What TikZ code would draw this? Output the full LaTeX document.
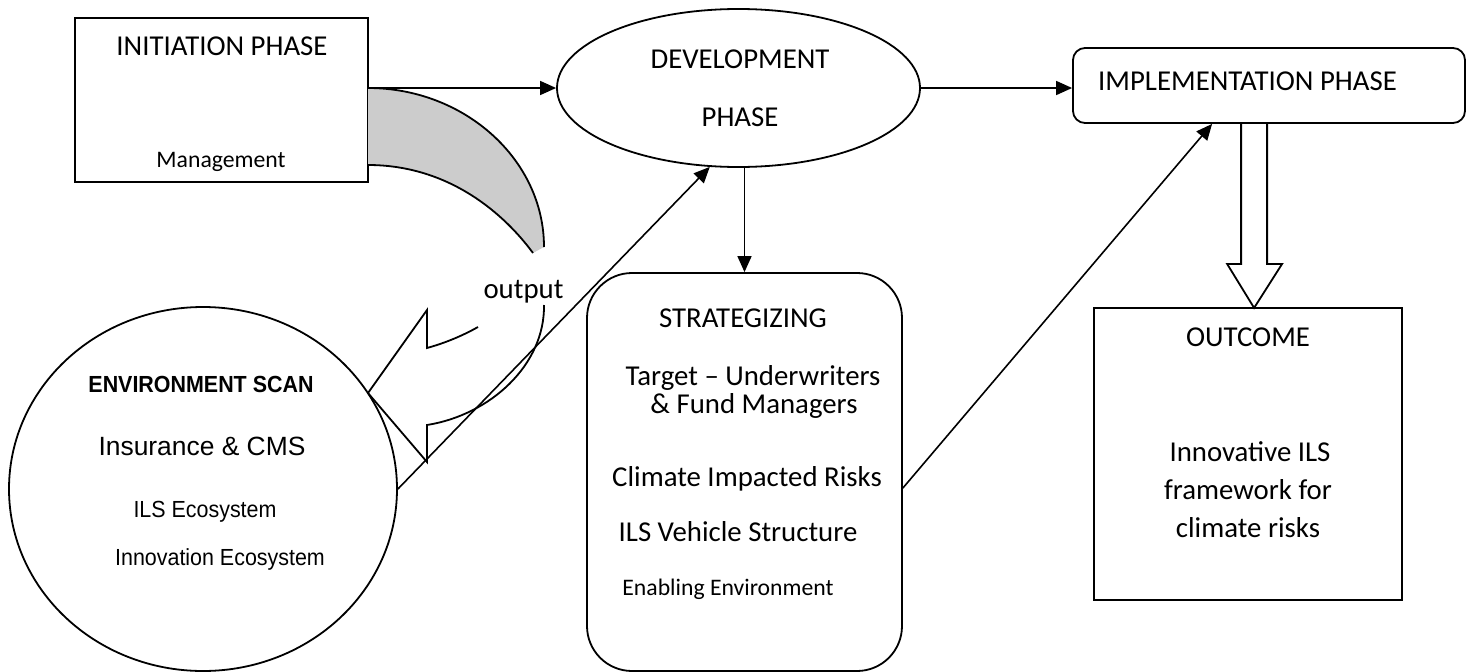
\documentclass[tikz,border=0pt]{standalone}
\usepackage{fontspec}
\setmainfont{Carlito}
\newfontfamily\arialfont{Liberation Sans}
\newfontfamily\arialnarrow[FakeStretch=0.92]{Liberation Sans}
\usetikzlibrary{shapes.geometric,arrows.meta}

\definecolor{bandgray}{RGB}{204,204,204}

\tikzset{
  line/.style={line width=1.8pt, draw=black},
  box/.style={line, rectangle, inner sep=0pt},
  roundbox/.style={box, rounded corners=#1},
  oval/.style={line, ellipse, inner sep=0pt},
  arr/.style={line width=1.6pt, -{Triangle[length=16pt,width=14pt]}},
  lbl/.style={inner sep=0pt, anchor=base},
  lblw/.style={inner sep=0pt, anchor=base west},
  big/.style={font=\fontsize{28.8}{34}\selectfont},
  small/.style={font=\fontsize{23.7}{28}\selectfont},
  envtitle/.style={font=\arialnarrow\bfseries\fontsize{23.3}{28}\selectfont},
  envtext/.style={font=\arialnarrow\fontsize{23.3}{28}\selectfont},
  envbig/.style={font=\arialfont\fontsize{26.4}{31}\selectfont},
}

\begin{document}
\begin{tikzpicture}[x=1pt, y=-1pt]
  \useasboundingbox (0,0) rectangle (1473,672);

  % main shapes
  \node[box, minimum width=293pt, minimum height=164pt] (init) at (221.5,100) {};
  \node[oval, minimum width=363pt, minimum height=158pt] (dev) at (738.5,88) {};
  \node[roundbox=12pt, minimum width=392pt, minimum height=75pt] (impl) at (1269,85.5) {};
  \node[roundbox=45pt, minimum width=315pt, minimum height=398pt] (strat) at (744.5,472) {};
  \node[box, minimum width=308pt, minimum height=292pt] (outcome) at (1248,454) {};
  \node[oval, minimum width=388pt, minimum height=364pt] (env) at (203,489) {};

  % curved "output" arrow: shaded upper band
  \fill[bandgray] (368,88) .. controls (465,88) and (544,160) .. (544,247)
    -- (533,253) .. controls (505,215) and (450,165) .. (368,165) -- cycle;
  \draw[line] (368,88) .. controls (465,88) and (544,160) .. (544,247);
  \draw[line] (533,253) .. controls (505,215) and (450,165) .. (368,165);
  % curved "output" arrow: lower part with its head
  \draw[line, line join=miter] (478,327) .. controls (462,336) and (445,343) .. (427,348)
    -- (427,310) -- (368,393) -- (427,462) -- (427,425)
    .. controls (490,415) and (545,365) .. (544,305);
  \node[lbl, big] (outlbl) at (523.5,298) {output};

  % connectors
  \draw[arr] (init.east |- dev.west) -- (dev.west);
  \draw[arr] (dev.east) -- (dev.east -| impl.west);
  \draw[arr] (strat.north |- dev.south) -- (strat.north);
  \draw[arr] ([yshift=-16pt]strat.east) -- ([xshift=140pt]impl.south west);
  \draw[arr] (env.east) -- (dev.250);

  % block arrow from implementation down to the outcome
  \draw[line, line join=miter] ([xshift=169pt]impl.south west) -- ++(0,140) -- ++(-14,0)
    -- ++(27,44) -- ++(28,-44) -- ++(-15,0) -- ++(0,-140);

  % texts
  \node[lbl, big] (initT) at (222,55) {INITIATION PHASE};
  \node[lbl, small] (initM) at (221,167) {Management};

  \node[lbl, big] (devT1) at (740,68) {DEVELOPMENT};
  \node[lbl, big] (devT2) at (740,126) {PHASE};

  \node[lblw, big] (implT) at (1098,90) {IMPLEMENTATION PHASE};

  \node[lbl, big] (stT) at (743,327) {STRATEGIZING};
  \node[lbl, big] (st1) at (753,385) {Target -- Underwriters};
  \node[lbl, big] (st2) at (754,413) {\& Fund Managers};
  \node[lbl, big] (st3) at (747,486) {Climate Impacted Risks};
  \node[lbl, big] (st4) at (738,541) {ILS Vehicle Structure};
  \node[lbl, small] (st5) at (728,595) {Enabling Environment};

  \node[lbl, big] (ocT) at (1248,346) {OUTCOME};
  \node[lbl, big] (oc1) at (1250,461) {Innovative ILS};
  \node[lbl, big] (oc2) at (1248,499) {framework for};
  \node[lbl, big] (oc3) at (1248,537) {climate risks};

  \node[lbl, envtitle] (envT) at (201,392) {ENVIRONMENT SCAN};
  \node[lbl, envbig] (env1) at (202,455) {Insurance \& CMS};
  \node[lbl, envtext] (env2) at (205,517) {ILS Ecosystem};
  \node[lbl, envtext] (env3) at (220,565) {Innovation Ecosystem};
\end{tikzpicture}
\end{document}
